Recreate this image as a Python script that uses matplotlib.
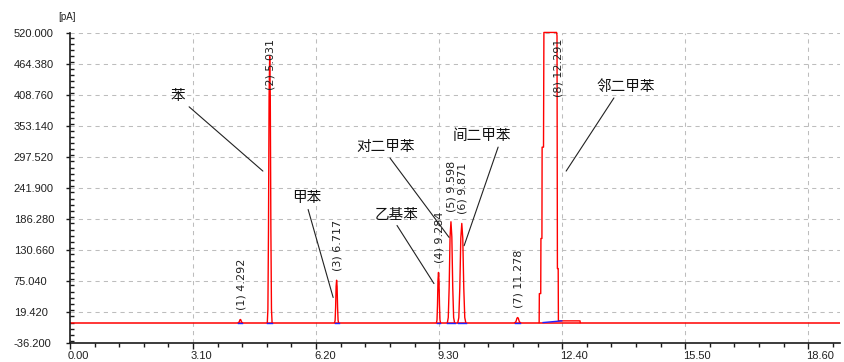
import numpy as np
import matplotlib
matplotlib.use("Agg")
import matplotlib.pyplot as plt
from matplotlib.ticker import FixedLocator, MultipleLocator, FormatStrFormatter
from matplotlib.transforms import ScaledTranslation

plt.rcParams['font.family'] = ['Liberation Sans', 'Noto Sans CJK SC', 'DejaVu Sans']

# Detected peaks: number, retention time (min), apex height (pA), half width (min)
peak_no = [1, 2, 3, 4, 5, 6, 7]
peak_rt = [4.292, 5.031, 6.717, 9.284, 9.598, 9.871, 11.278]
peak_height = [5.5, 478.0, 76.0, 90.0, 181.0, 178.0, 9.0]
peak_halfwidth = [0.05, 0.06, 0.05, 0.05, 0.09, 0.10, 0.07]

# Relative peak profile (offset in half widths, fraction of apex)
profile_offset = [-1.0, -0.75, -0.5, -0.25, 0.0, 0.25, 0.5, 0.75, 1.0]
profile_level = [0.0, 0.05, 0.35, 0.85, 1.0, 0.85, 0.35, 0.05, 0.0]

# Peak 8 (o-xylene) saturates the detector: its recorded outline
peak8_no = 8
peak8_rt = 12.291
peak8_time = [11.82, 11.825, 11.86, 11.865, 11.89, 11.895, 11.93, 11.94, 11.97,
              12.26, 12.27, 12.28, 12.30, 12.305, 12.85, 12.855]
peak8_signal = [0.0, 52.0, 52.0, 151.0, 151.0, 315.0, 315.0, 521.0, 521.0,
                521.0, 515.0, 97.0, 97.0, 3.0, 3.0, 0.0]
peak8_base_time = [11.92, 12.39]
peak8_base_signal = [0.0, 3.0]

baseline_level = 0.0
run_time = [0.0, 19.4]

# Compound names and where their callouts sit
compound_names = ['苯', '甲苯', '乙基苯', '对二甲苯', '间二甲苯', '邻二甲苯']
callout_text_xy = [(2.72, 406.0), (5.97, 223.0), (8.22, 194.0), (7.96, 315.0), (10.38, 335.0), (13.99, 423.0)]
callout_point_xy = [(4.86, 272.0), (6.63, 45.0), (9.17, 70.0), (9.55, 153.0), (9.93, 138.0), (12.50, 272.0)]
callout_relpos = [(1.0, 0.0), (0.5, 0.0), (0.46, 0.0), (0.52, 0.0), (0.8, 0.0), (0.35, 0.0)]

x_ticks = [0.0, 3.1, 6.2, 9.3, 12.4, 15.5, 18.6]
y_ticks = [-36.2, 19.42, 75.04, 130.66, 186.28, 241.9, 297.52, 353.14, 408.76, 464.38, 520.0]

RED = '#ff0000'
BLUE = '#2020ff'
GRID = '#bdbdbd'
AXIS = '#1a1a1a'

fig = plt.figure(figsize=(8.44, 3.62), dpi=100)
ax = fig.add_axes([70 / 844, 19.3 / 362, 770 / 844, 309.7 / 362])

ax.set_xlim(run_time[0], run_time[1])
ax.set_ylim(y_ticks[0], y_ticks[-1])

# grid
for yv in y_ticks[1:]:
    ax.axhline(yv, color=GRID, lw=0.75, ls=(0, (4, 4)), zorder=0)
for xv in x_ticks[1:]:
    ax.axvline(xv, color=GRID, lw=0.75, ls=(0, (4, 4)), zorder=0)

# baseline trace
ax.plot(run_time, [baseline_level, baseline_level], color=RED, lw=1.1, zorder=2,
        solid_capstyle='butt')

# regular peaks
for rt, h, hw in zip(peak_rt, peak_height, peak_halfwidth):
    xs = [rt + o * hw for o in profile_offset]
    ys = [baseline_level + lv * h for lv in profile_level]
    ax.plot(xs, ys, color=RED, lw=1.0, zorder=3)
    ax.plot([rt - hw, rt + hw], [baseline_level, baseline_level], color=BLUE, lw=1.0, zorder=3.5)

# saturated peak
ax.plot(peak8_time, peak8_signal, color=RED, lw=1.0, zorder=3, clip_on=False)
ax.plot(peak8_base_time, peak8_base_signal, color=BLUE, lw=1.0, zorder=3.5)

# peak labels
label_rt = peak_rt + [peak8_rt]
label_no = peak_no + [peak8_no]
label_h = peak_height + [y_ticks[-1]]
for n, rt, h in zip(label_no, label_rt, label_h):
    txt = f'({n}) {rt:.3f}'
    if h > 400:
        ax.annotate(txt, xy=(rt, y_ticks[-1]), xytext=(0.5, -4), textcoords='offset points',
                    rotation=90, ha='center', va='top', fontsize=8, color='#202020',
                    family='DejaVu Sans', zorder=5)
    else:
        ax.annotate(txt, xy=(rt, h), xytext=(0.5, 7), textcoords='offset points',
                    rotation=90, ha='center', va='bottom', fontsize=8, color='#202020',
                    family='DejaVu Sans', zorder=5)

# compound callouts
for name, txy, pxy, rp in zip(compound_names, callout_text_xy, callout_point_xy, callout_relpos):
    ax.annotate(name, xy=pxy, xytext=txy, textcoords='data', ha='center', va='center',
                fontsize=10.5, family=['Noto Sans CJK SC', 'DejaVu Sans'], color='#111111',
                arrowprops=dict(arrowstyle='-', color='#222222', lw=0.8, relpos=rp,
                                shrinkA=1, shrinkB=0), zorder=6)

# axes styling
for side in ('top', 'right'):
    ax.spines[side].set_visible(False)
for side in ('left', 'bottom'):
    ax.spines[side].set_color(AXIS)
    ax.spines[side].set_linewidth(1.2)

ax.xaxis.set_major_locator(FixedLocator(x_ticks))
ax.xaxis.set_minor_locator(MultipleLocator(0.62))
ax.xaxis.set_major_formatter(FormatStrFormatter('%.2f'))
ax.yaxis.set_major_locator(FixedLocator(y_ticks))
ax.yaxis.set_minor_locator(MultipleLocator(55.62 / 5))
ax.yaxis.set_major_formatter(FormatStrFormatter('%.3f'))

ax.tick_params(axis='x', which='major', direction='out', length=4, width=1, color=AXIS,
               labelsize=8, pad=2, labelcolor='#202020')
ax.tick_params(axis='x', which='minor', direction='out', length=3, width=1, color=AXIS)
ax.tick_params(axis='y', which='major', direction='out', length=3, width=1, color=AXIS,
               labelsize=8, pad=37.5, labelcolor='#202020')
ax.tick_params(axis='y', which='minor', direction='in', length=3, width=1, color=AXIS)

for lbl in ax.get_yticklabels():
    lbl.set_horizontalalignment('left')
shift = ScaledTranslation(-2 / 100, 0, fig.dpi_scale_trans)
for lbl in ax.get_xticklabels():
    lbl.set_horizontalalignment('left')
    lbl.set_transform(lbl.get_transform() + shift)

fig.text(67 / 844, 1 - 17 / 362, '[pA]', fontsize=7, ha='center', va='center', color='#202020')

fig.savefig('out.png', dpi=100)
